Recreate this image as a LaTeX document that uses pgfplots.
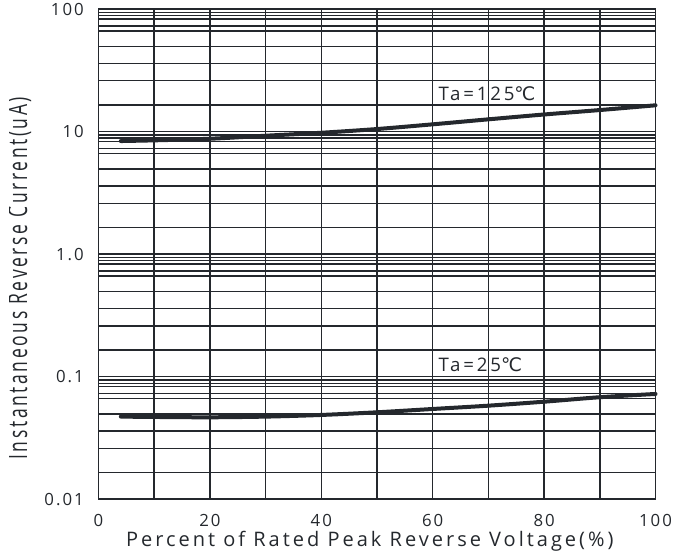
\documentclass[border=0pt]{standalone}
\usepackage{fontspec}
\setmainfont{Open Sans}[LetterSpace=15]
\newfontfamily\tickfont{Open Sans}[LetterSpace=12]
\newfontfamily\symfont{DejaVu Sans}
\usepackage{pgfplots}
\pgfplotsset{compat=1.18}

\definecolor{ink}{HTML}{24282D}

% leakage current vs. reverse voltage, two junction temperatures
\pgfplotstableread{
x    i
4    8.38
10   8.49
20   8.75
30   9.26
40   9.79
50   10.5
60   11.47
70   12.6
80   13.8
90   15.0
100  16.4
}\hightemp

\pgfplotstableread{
x    i
4    0.0473
10   0.0470
20   0.0467
30   0.0473
40   0.0488
50   0.0513
60   0.0546
70   0.0581
80   0.0626
90   0.0681
100  0.0724
}\roomtemp

\begin{document}
\begin{tikzpicture}
\useasboundingbox (-73.9pt,-40.3pt) rectangle (446.6pt,374.5pt);
\begin{axis}[
  at={(0,0)}, anchor=south west,
  scale only axis,
  width=417.75pt, height=367.7pt,
  ymode=log,
  xmin=0, xmax=100, ymin=0.01, ymax=100,
  xtick={0,20,...,100},
  minor xtick={10,30,...,90},
  ytick={0.01,0.1,1,10,100},
  yticklabels={0.01,0.1,1.0,10,100},
  minor ytick={
    94,88.5,83,73,66.5,49.5,36,26,16.5,
    9.4,8.85,8.3,7.3,6.65,4.95,3.6,2.6,1.65,
    0.94,0.885,0.83,0.73,0.665,0.495,0.36,0.26,0.165,
    0.094,0.0885,0.083,0.073,0.0665,0.0495,0.036,0.026,0.0165},
  grid=both,
  major grid style={draw=ink, line width=1.1pt},
  minor grid style={draw=ink, line width=1.1pt},
  axis line style={draw=ink, line width=1.4pt},
  major tick length=0pt, minor tick length=0pt,
  tick label style={font=\tickfont\fontsize{12.6}{14}\selectfont, text=ink},
  /pgf/number format/assume math mode=true,
  xticklabel style={anchor=base, inner sep=0pt, yshift=-20.5pt},
  yticklabel style={anchor=east, inner sep=0pt, xshift=-10.9pt},
  xlabel={Percent of Rated Peak Reverse Voltage(\%)},
  ylabel={Instantaneous Reverse Current(uA)},
  label style={font=\fontsize{15}{17}\selectfont, text=ink},
  xlabel style={at={(axis description cs:0.487,-0.0967)}, anchor=base, inner sep=0pt},
  ylabel style={at={(axis description cs:-0.1284,0.451)}, anchor=base, inner sep=0pt,
    font=\fontsize{13.1}{15}\selectfont, yscale=1.5},
  clip=false,
]
\addplot[draw=ink, line width=3pt, smooth, line cap=round] table[x=x, y=i] {\hightemp};
\addplot[draw=ink, line width=3pt, smooth, line cap=round] table[x=x, y=i] {\roomtemp};
\node[anchor=west, inner sep=0pt, text=ink, font=\fontsize{14}{16}\selectfont] at (axis cs:61,20.3) {Ta=125{\symfont ℃}};
\node[anchor=west, inner sep=0pt, text=ink, font=\fontsize{14}{16}\selectfont] at (axis cs:61,0.125) {Ta=25{\symfont ℃}};
\end{axis}
% the page edge trims the tops of the rotated axis title
\fill[white] (-73.9pt,-40.3pt) rectangle (-67.2pt,374.5pt);
\end{tikzpicture}
\end{document}
